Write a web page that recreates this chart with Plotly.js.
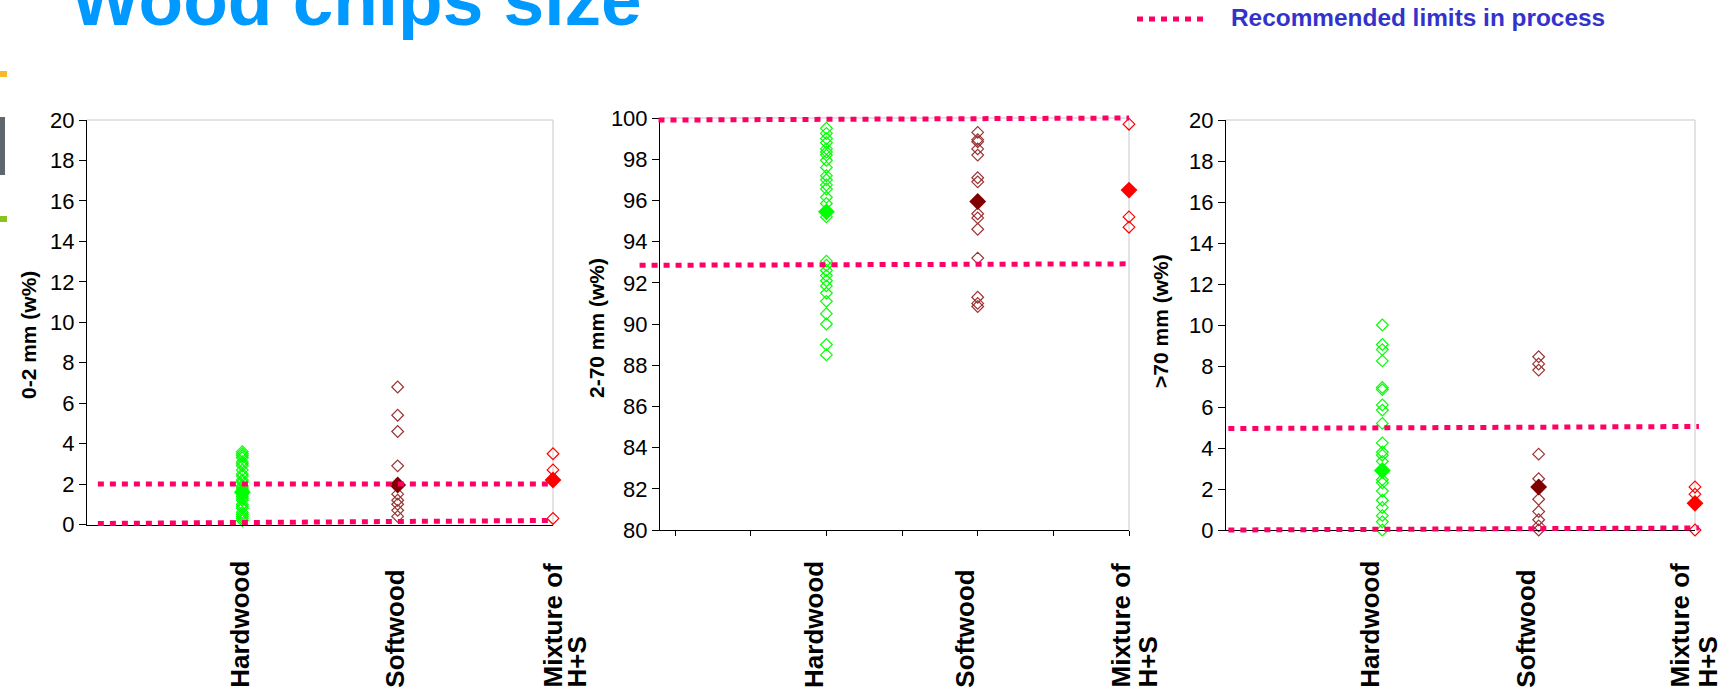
<!DOCTYPE html>
<html>
<head>
<meta charset="utf-8">
<script src="https://cdn.plot.ly/plotly-3.0.1.min.js"></script>
<style>
html,body{margin:0;padding:0;background:#fff;}
#chart{width:1731px;height:696px;}
</style>
</head>
<body>
<div id="chart"></div>
<script>
// ---------- data ----------
const categories = ['Hardwood', 'Softwood', 'Mixture of<br>H+S'];

// 0-2 mm (w%)
const fine_hardwood = [3.6,3.5,3.4,3.3,3.1,3.0,2.9,2.7,2.5,2.4,2.2,2.1,1.9,1.8,1.7,1.5,1.4,1.3,1.2,1.0,0.9,0.8,0.6,0.5,0.4,0.3,0.2];
const fine_softwood = [6.8,5.4,4.6,2.9,1.5,1.2,1.0,0.7,0.4];
const fine_mixture  = [3.5,2.7,0.3];
const fine_means    = [1.6,1.95,2.2];
const fine_limit_upper = [2.0,2.0];
const fine_limit_lower = [0.05,0.2];

// 2-70 mm (w%)
const mid_hardwood = [99.5,99.25,99.0,98.8,98.5,98.35,98.2,97.95,97.6,97.2,97.0,96.75,96.55,96.15,95.85,95.2,93.05,92.85,92.6,92.35,92.1,91.85,91.5,91.1,90.5,90.0,89.0,88.5];
const mid_softwood = [99.3,98.95,98.85,98.5,98.2,97.1,96.9,95.35,95.15,94.6,93.2,91.3,91.0,90.85];
const mid_mixture  = [99.7,95.2,94.7];
const mid_means    = [95.45,95.95,96.5];
const mid_limit_upper = [99.9,100.0];
const mid_limit_lower = [92.85,92.92];

// >70 mm (w%)
const over_hardwood = [10.0,9.05,8.8,8.25,6.95,6.85,6.1,5.85,5.2,4.25,3.8,3.65,3.35,2.45,2.3,1.9,1.45,1.1,0.7,0.4,0.0];
const over_softwood = [8.45,8.1,7.8,3.7,2.5,1.5,0.9,0.5,0.2,0.0];
const over_mixture  = [2.1,1.75,0.0];
const over_means    = [2.9,2.1,1.3];
const over_limit_upper = [4.95,5.05];
const over_limit_lower = [0.0,0.1];

const yTitles = ['0-2 mm (w%)', '2-70 mm (w%)', '>70 mm (w%)'];
const chartTitle = 'Wood chips size';
const legendText = 'Recommended limits in process';

// ---------- styles / geometry ----------
const FONT = 'Liberation Sans, Arial, Helvetica, sans-serif';
const openColors = ['#00FF00', '#993333', '#FF0000'];
const meanColors = ['#00FF00', '#800000', '#FF0000'];
const limitColor = '#FF0066';
const W = 1731, H = 696;
const catX = i => 2 * (i + 1);
const px = v => v / W;
const py = v => 1 - v / H;

const panels = [
  {series:[fine_hardwood, fine_softwood, fine_mixture], means:fine_means, up:fine_limit_upper, lo:fine_limit_lower,
   xrange:[0,6], yrange:[0,20], xdom:[87,553], ydom:[524.5,120], spanUp:[0.14,6], spanLo:[0.14,6], padL:10, ticks:false,
   titleX:28, titleY:335, labShift:-3, mixShift:[-1,23]},
  {series:[mid_hardwood, mid_softwood, mid_mixture],  means:mid_means,  up:mid_limit_upper,  lo:mid_limit_lower,
   xrange:[-0.2,6], yrange:[80,100], xdom:[660,1129], ydom:[530,118], spanUp:[-0.22,6], spanLo:[-0.47,6], padL:30, ticks:true,
   titleX:596, titleY:328, labShift:-13, mixShift:[-9,18]},
  {series:[over_hardwood, over_softwood, over_mixture], means:over_means, up:over_limit_upper, lo:over_limit_lower,
   xrange:[0,6], yrange:[0,20], xdom:[1226,1695], ydom:[530,120], spanUp:[0.03,6.05], spanLo:[0.03,6.05], padL:10, ticks:false,
   titleX:1160, titleY:321, labShift:-13, mixShift:[-16,12]}
];

const layout = {
  width:W, height:H, margin:{l:0, r:0, t:0, b:0},
  paper_bgcolor:'#fff', plot_bgcolor:'rgba(0,0,0,0)',
  font:{family:FONT, color:'#000'},
  showlegend:false,
  annotations:[], shapes:[]
};
const traces = [];
const PAD = 12;   // extra room so the thick limit lines are not clipped

panels.forEach((p, k) => {
  const s = k === 0 ? '' : String(k + 1);
  const o = String(k + 4);             // companion axes for the limit lines
  const ux = (p.xdom[1] - p.xdom[0]) / (p.xrange[1] - p.xrange[0]);
  const uy = (p.ydom[0] - p.ydom[1]) / (p.yrange[1] - p.yrange[0]);

  layout['xaxis' + s] = {
    domain:[px(p.xdom[0]), px(p.xdom[1])], range:p.xrange, anchor:'y' + s,
    showgrid:false, zeroline:false, showline:true, linecolor:'#000', linewidth:1,
    ticks:p.ticks ? 'outside' : '', ticklen:5, tickcolor:'#000', dtick:1, tick0:0,
    showticklabels:false, fixedrange:true
  };
  layout['yaxis' + s] = {
    domain:[py(p.ydom[0]), py(p.ydom[1])], range:p.yrange, anchor:'x' + s,
    showgrid:false, zeroline:false, showline:true, linecolor:'#000', linewidth:1,
    ticks:'outside', ticklen:7, tickcolor:'#000', dtick:2,
    tickfont:{family:FONT, size:22, color:'#000'}, ticklabelstandoff:0, fixedrange:true
  };
  layout['xaxis' + o] = {
    domain:[px(p.xdom[0] - p.padL), px(p.xdom[1] + PAD)],
    range:[p.xrange[0] - p.padL / ux, p.xrange[1] + PAD / ux], anchor:'y' + o, visible:false, fixedrange:true
  };
  layout['yaxis' + o] = {
    domain:[py(p.ydom[0] + PAD), py(p.ydom[1] - PAD)],
    range:[p.yrange[0] - PAD / uy, p.yrange[1] + PAD / uy], anchor:'x' + o, visible:false, fixedrange:true
  };

  [[p.spanUp, p.up], [p.spanLo, p.lo]].forEach(([span, lim]) => {
    traces.push({
      type:'scatter', mode:'lines', x:span, y:lim, xaxis:'x' + o, yaxis:'y' + o,
      line:{color:limitColor, width:5, dash:'6px,6px'}, hoverinfo:'skip', showlegend:false
    });
  });
  p.series.forEach((vals, i) => {
    traces.push({
      type:'scatter', mode:'markers', x:vals.map(() => catX(i)), y:vals, xaxis:'x' + s, yaxis:'y' + s,
      marker:{symbol:'diamond-open', size:9, color:openColors[i], line:{width:1.2, color:openColors[i]}},
      showlegend:false, cliponaxis:false
    });
  });
  p.means.forEach((m, i) => {
    traces.push({
      type:'scatter', mode:'markers', x:[catX(i)], y:[m], xaxis:'x' + s, yaxis:'y' + s,
      marker:{symbol:'diamond', size:13, color:meanColors[i]},
      showlegend:false, cliponaxis:false
    });
  });

  // light grey plot borders (top and right)
  layout.shapes.push({type:'line', xref:'x' + s + ' domain', yref:'y' + s + ' domain', x0:0, x1:1, y0:1, y1:1, line:{color:'#C8C8C8', width:1}, layer:'below'});
  layout.shapes.push({type:'line', xref:'x' + s + ' domain', yref:'y' + s + ' domain', x0:1, x1:1, y0:0, y1:1, line:{color:'#C8C8C8', width:1}, layer:'below'});
  // y title
  layout.annotations.push({xref:'paper', yref:'paper', x:px(p.titleX), y:py(p.titleY),
    xanchor:'center', yanchor:'middle', textangle:-90, text:'<b>' + yTitles[k] + '</b>', showarrow:false,
    font:{family:FONT, size:21, color:'#000'}});
  // category labels (bottom-aligned, rotated)
  categories.forEach((c, i) => {
    const lines = c.split('<br>');
    lines.forEach((ln, j) => {
      const shift = lines.length > 1 ? p.mixShift[j] : p.labShift;
      layout.annotations.push({xref:'x' + s, yref:'paper', x:catX(i), y:py(690), xanchor:'center', yanchor:'bottom',
        xshift:shift, textangle:-90, text:'<b>' + ln + '</b>', showarrow:false,
        font:{family:FONT, size:26, color:'#000'}});
    });
  });
});

// chart title
layout.annotations.push({xref:'paper', yref:'paper', x:px(69), y:py(42), xanchor:'left', yanchor:'bottom',
  text:'<b>' + chartTitle + '</b>', showarrow:false, font:{family:FONT, size:73, color:'#0099FF'}});
// legend text
layout.annotations.push({xref:'paper', yref:'paper', x:px(1229), y:py(18), xanchor:'left', yanchor:'middle',
  text:'<b>' + legendText + '</b>', showarrow:false, font:{family:FONT, size:24.4, color:'#3333CC'}});
// legend sample line
layout.shapes.push({type:'line', xref:'paper', yref:'paper', x0:px(1137), x1:px(1209), y0:py(19), y1:py(19),
  line:{color:limitColor, width:5, dash:'6px,6px'}});
// slide decorations on the left edge
layout.shapes.push({type:'rect', xref:'paper', yref:'paper', x0:0, x1:px(7), y0:py(77), y1:py(71), fillcolor:'#F7B82A', line:{width:0}});
layout.shapes.push({type:'rect', xref:'paper', yref:'paper', x0:0, x1:px(5), y0:py(175), y1:py(117), fillcolor:'#60666E', line:{width:0}});
layout.shapes.push({type:'rect', xref:'paper', yref:'paper', x0:0, x1:px(7), y0:py(222), y1:py(216), fillcolor:'#8CC21E', line:{width:0}});

Plotly.newPlot('chart', traces, layout, {displayModeBar:false, staticPlot:true});
</script>
</body>
</html>
